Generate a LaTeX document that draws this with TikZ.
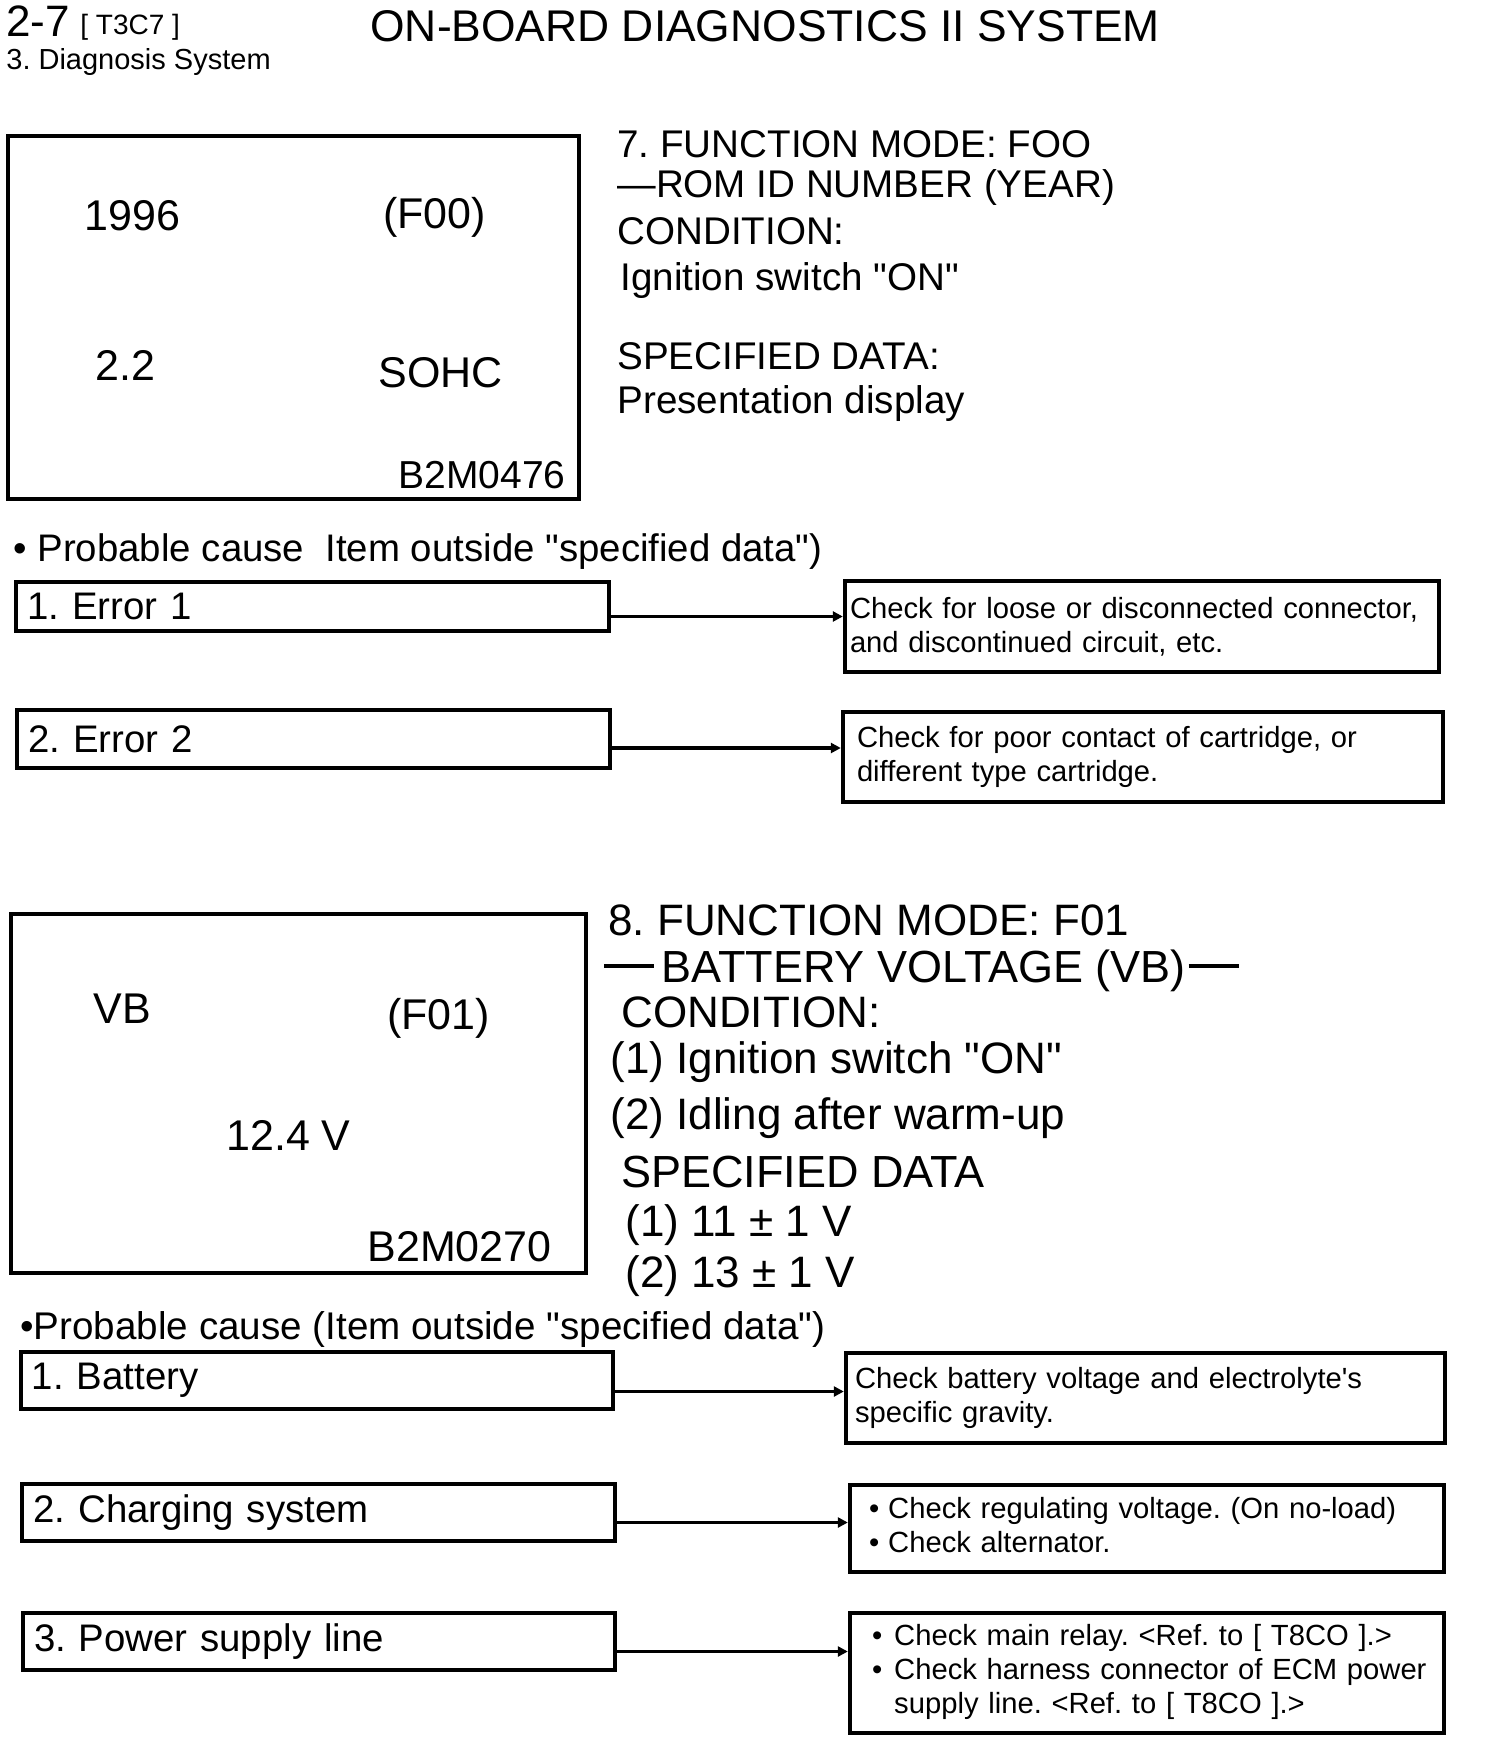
\documentclass[tikz,border=0pt]{standalone}
\usepackage{fontspec}
\setmainfont{Liberation Sans}
\newfontfamily\plainarial{Liberation Sans}
\usetikzlibrary{arrows.meta,calc}
\newcommand\fsz[2]{\plainarial\frenchspacing\fontsize{#1}{#2}\selectfont}
\newcommand\bardash{\rule[7.2pt]{25pt}{1.8pt}}
\begin{document}
\begin{tikzpicture}[x=0.5pt,y=-0.5pt,
  t/.style={anchor=base west, inner sep=0pt},
  te/.style={anchor=base east, inner sep=0pt},
  box/.style={draw, line width=2.2pt, rectangle, inner sep=0pt},
  causebox/.style={box, minimum height=#1, align=left, inner xsep=5.5pt, text width=285pt, font=\fsz{19.2}{23}},
  checkbox/.style={box, align=left, font=\fsz{14.6}{17}},
  conn/.style={line width=1.7pt, -{Triangle[length=5pt,width=5pt]}},
  big7/.style={t, font=\fsz{19.3}{23}},
  big8/.style={t, font=\fsz{22}{26}},
  scr/.style={t, font=\fsz{21.5}{25}}]
\fill[white] (0,0) rectangle (1504,1750);
\useasboundingbox (0,0) rectangle (1504,1750);

% header
\node[t, font=\fsz{22}{25}] (hnum) at (6,37) {2-7};
\node[t, font=\fsz{14}{16}] (hcode) at (80,35) {[ T3C7 ]};
\node[t, font=\fsz{14.5}{17}] (hsec) at (6,70) {3. Diagnosis System};
\node[t, font=\fsz{22.2}{27}] (title) at (370,42) {ON-BOARD DIAGNOSTICS II SYSTEM};

% screen 1
\node[box, minimum width=285.5pt, minimum height=181.5pt] (scr1) at (293.5,317.5) {};
\node[scr] (s1a) at (84,230) {1996};
\node[scr] (s1b) at (383,228) {(F00)};
\node[scr] (s1c) at (95,380) {2.2};
\node[scr] (s1d) at (378,387) {SOHC};
\node[te, font=\fsz{19.5}{23}] (s1e) at (566,488) {B2M0476};

% block 7
\node[big7] (m7a) at (617,157) {7. FUNCTION MODE: FOO};
\node[big7] (m7b) at (617,197) {—ROM ID NUMBER (YEAR)};
\node[big7] (m7c) at (617,244) {CONDITION:};
\node[big7] (m7d) at (620,290) {Ignition switch "ON"};
\node[big7] (m7e) at (617,369) {SPECIFIED DATA:};
\node[big7] (m7f) at (617,413) {Presentation display};

\node[t, font=\fsz{19.2}{23}] (pc1) at (13,561) {• Probable cause\ \ Item outside "specified data")};

\node[causebox=24.5pt, minimum width=296.5pt] (e1) at (312.5,606.5) {1. Error 1};
\node[checkbox, minimum width=297pt, minimum height=45.5pt, inner xsep=2.5pt, text width=292pt] (c1) at (1142,626.5)
  {Check for loose or disconnected connector,\\and discontinued circuit, etc.};
\node[causebox=29pt, minimum width=296.5pt] (e2) at (313.5,739) {2. Error 2};
\node[checkbox, minimum width=300pt, minimum height=45pt, inner xsep=7pt, text width=286pt] (c2) at (1143,757)
  {Check for poor contact of cartridge, or\\different type cartridge.};

\path ($(e1.east)+(0,10)$) coordinate (a1);
\draw[conn] (a1) -- (a1 -| c1.west);
\path ($(e2.east)+(0,9)$) coordinate (a2);
\draw[conn] (a2) -- (a2 -| c2.west);

% screen 2
\node[box, minimum width=287.5pt, minimum height=179.5pt] (scr2) at (298.5,1093.5) {};
\node[scr] (s2a) at (93,1023) {VB};
\node[scr] (s2b) at (387,1029) {(F01)};
\node[scr] (s2c) at (226,1150) {12.4 V};
\node[te, font=\fsz{21.5}{25}] (s2d) at (552,1261) {B2M0270};

% block 8
\node[big8] (m8a) at (608,935) {8. FUNCTION MODE: F01};
\node[big8, font=\fsz{22.5}{26}] (m8b) at (604,982) {\bardash\hspace{3.5pt}BATTERY VOLTAGE (VB)\hspace{1.5pt}\bardash};
\node[big8] (m8c) at (621,1027) {CONDITION:};
\node[big8] (m8d) at (610,1073) {(1) Ignition switch "ON"};
\node[big8] (m8e) at (610,1129) {(2) Idling after warm-up};
\node[big8, font=\fsz{22.5}{26}] (m8f) at (621,1187) {SPECIFIED DATA};
\node[big8] (m8g) at (625,1236) {(1) 11 ± 1 V};
\node[big8] (m8h) at (625,1287) {(2) 13 ± 1 V};

\node[t, font=\fsz{19.3}{23}] (pc2) at (20,1339) {•Probable cause (Item outside "specified data")};

\node[causebox=28.5pt, minimum width=296pt] (f1) at (317,1380.5) {1. Battery};
\node[checkbox, minimum width=299.5pt, minimum height=45pt, inner xsep=4.5pt, text width=290.5pt] (d1) at (1145.5,1398)
  {Check battery voltage and electrolyte's\\specific gravity.};
\node[causebox=28.5pt, minimum width=296.5pt] (f2) at (318.5,1512.5) {2. Charging system};
\node[checkbox, minimum width=297pt, minimum height=43.5pt, inner xsep=9.5pt, text width=278pt] (d2) at (1147,1528.5)
  {\begin{tabular}{@{}l@{\hspace{4.5pt}}l@{}}•&Check regulating voltage. (On no-load)\\ •&Check alternator.\end{tabular}};
\node[causebox=28.5pt, minimum width=296pt] (f3) at (319,1641.5) {3. Power supply line};
\node[checkbox, minimum width=297pt, minimum height=60pt, inner xsep=11pt, text width=275pt] (d3) at (1147,1673)
  {\begin{tabular}{@{}l@{\hspace{6pt}}l@{}}•&Check main relay. <Ref. to [ T8CO ].>\\ •&Check harness connector of ECM power\\ &supply line. <Ref. to [ T8CO ].>\end{tabular}};

\path ($(f1.east)+(0,11)$) coordinate (b1);
\draw[conn] (b1) -- (b1 -| d1.west);
\path ($(f2.east)+(0,10)$) coordinate (b2);
\draw[conn] (b2) -- (b2 -| d2.west);
\path ($(f3.east)+(0,10)$) coordinate (b3);
\draw[conn] (b3) -- (b3 -| d3.west);
\end{tikzpicture}
\end{document}
